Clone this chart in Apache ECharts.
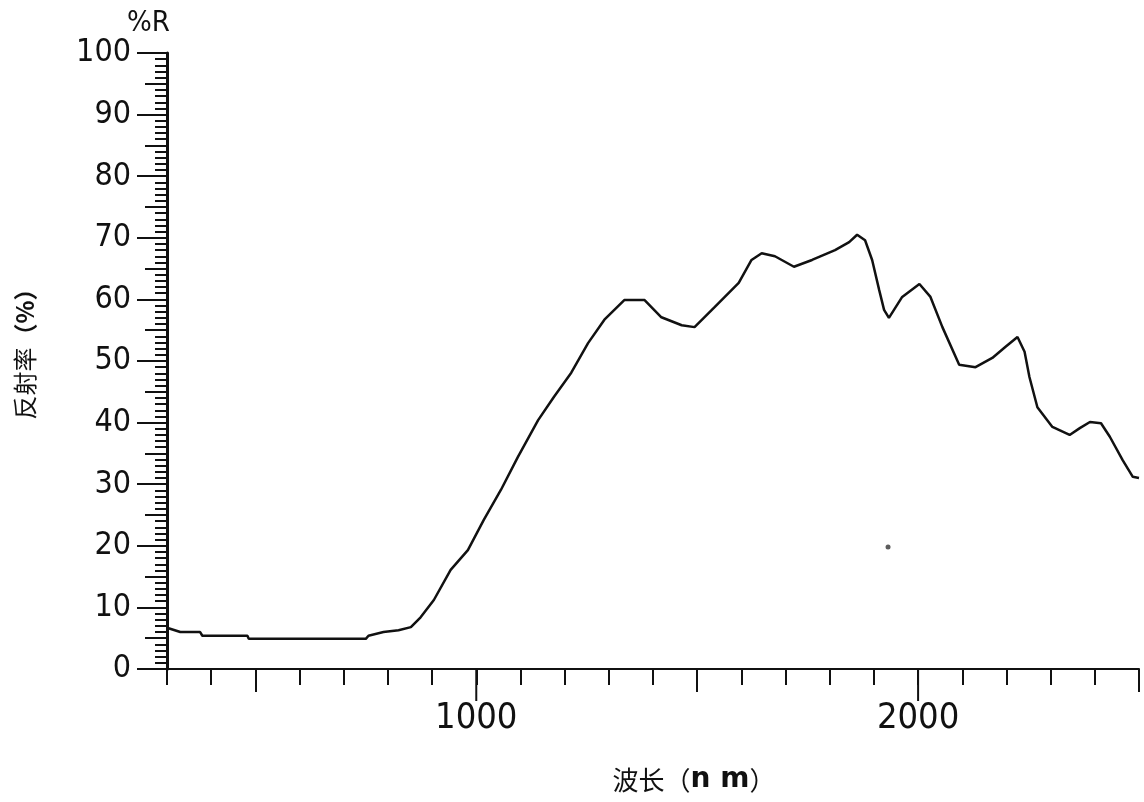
<!DOCTYPE html>
<html>
<head>
<meta charset="utf-8">
<script src="https://cdn.jsdelivr.net/npm/echarts@6/dist/echarts.min.js"></script>
<style>
html, body { margin: 0; padding: 0; background: #fff; }
#chart { width: 1144px; height: 802px; }
</style>
</head>
<body>
<div id="chart"></div>
<script>
// 波长 (nm) / 反射率 (%)
var wavelength = [300, 330, 375, 380, 482, 485, 750, 756, 790, 824, 852, 874, 904, 942, 981,
    1017, 1056, 1094, 1140, 1176, 1215, 1253, 1290, 1335, 1381, 1419, 1465, 1494, 1540, 1594,
    1623, 1646, 1676, 1719, 1760, 1812, 1844, 1862, 1880, 1896, 1912, 1923, 1934, 1964, 2003,
    2028, 2055, 2093, 2130, 2168, 2198, 2225, 2241, 2252, 2270, 2304, 2343, 2366, 2389, 2414,
    2434, 2463, 2486, 2500];
var reflectance = [6.7, 6.0, 6.0, 5.4, 5.4, 4.9, 4.9, 5.4, 6.0, 6.3, 6.8, 8.4, 11.2, 16.1, 19.3,
    24.2, 29.1, 34.4, 40.4, 44.2, 48.1, 52.9, 56.7, 59.9, 59.9, 57.1, 55.8, 55.5, 58.8, 62.7,
    66.4, 67.5, 67.0, 65.3, 66.4, 68.0, 69.3, 70.5, 69.6, 66.4, 61.5, 58.3, 57.0, 60.4, 62.5,
    60.4, 55.5, 49.4, 49.0, 50.5, 52.3, 53.9, 51.5, 47.4, 42.5, 39.3, 38.0, 39.1, 40.1, 39.9,
    37.7, 33.9, 31.2, 31.0];
// 图上的小污点
var speckX = [1932];
var speckY = [19.8];

var xMediumTicks = [500, 1500, 2500];
var xMajorTicks = [1000, 2000];

var lineData = wavelength.map(function (w, i) {
    return [w, reflectance[i]];
});
var speckData = speckX.map(function (w, i) {
    return [w, speckY[i]];
});

var black = '#111';
var numFont = 'DejaVu Sans Condensed';
var gridTop = 53, gridBottom = 133;
var gridHeight = 802 - gridTop - gridBottom;

var myChart = echarts.init(document.getElementById('chart'));
myChart.setOption({
    backgroundColor: '#fff',
    animation: false,
    grid: {left: 167, right: 5, top: gridTop, bottom: gridBottom},
    xAxis: [
        {
            type: 'value', min: 300, max: 2500, interval: 100,
            position: 'bottom',
            axisLine: {show: true, onZero: false, lineStyle: {color: black, width: 2}},
            splitLine: {show: false},
            axisTick: {show: true, length: 16, lineStyle: {color: black, width: 2}},
            axisLabel: {
                margin: 32,
                color: black,
                fontFamily: numFont,
                fontSize: 36,
                formatter: function (v) {
                    return xMajorTicks.indexOf(v) >= 0 ? String(v) : '';
                }
            }
        },
        {
            // 500 间隔的中刻度: 顶部轴挪到底部, 刻度朝下
            type: 'value', min: 300, max: 2500, interval: 100,
            position: 'top', offset: -gridHeight,
            axisLine: {show: false, onZero: false},
            splitLine: {show: false},
            axisLabel: {show: false},
            axisTick: {show: true, inside: true, customValues: xMediumTicks, length: 23,
                lineStyle: {color: black, width: 2}}
        }
    ],
    yAxis: [
        {
            type: 'value', min: 0, max: 100, interval: 10,
            position: 'left',
            axisLine: {show: true, onZero: false, lineStyle: {color: black, width: 3}},
            splitLine: {show: false},
            axisTick: {show: true, length: 30, lineStyle: {color: black, width: 2}},
            minorTick: {show: true, splitNumber: 10, length: 12, lineStyle: {color: black, width: 2}},
            axisLabel: {
                margin: 36,
                color: black,
                fontFamily: numFont,
                fontSize: 32
            }
        },
        {
            // 5 间隔的中刻度
            type: 'value', min: 0, max: 100, interval: 5,
            position: 'right', offset: -(1144 - 167 - 5),
            axisLine: {show: false, onZero: false},
            splitLine: {show: false},
            axisLabel: {show: false},
            axisTick: {show: true, inside: true, length: 22, lineStyle: {color: black, width: 2}}
        }
    ],
    graphic: [
        {
            id: 'unit',
            type: 'text', left: 127, top: 9,
            style: {text: '%R', fill: black, font: '29px "DejaVu Sans Condensed"'}
        },
        {
            id: 'yTitle',
            type: 'text', x: 25, y: 348, rotation: Math.PI / 2,
            style: {
                text: '反射率{b|（%）}',
                fill: black,
                align: 'center',
                verticalAlign: 'middle',
                font: '24px "Noto Sans CJK SC"',
                rich: {b: {fontWeight: 'bold', fontSize: 24, fontFamily: 'Noto Sans CJK SC', fill: black}}
            }
        },
        {
            id: 'xTitle',
            type: 'text', x: 694, y: 780,
            style: {
                text: '波长（{b|n m}）',
                fill: black,
                align: 'center',
                verticalAlign: 'middle',
                font: '26px "Noto Sans CJK SC"',
                rich: {b: {fontWeight: 'bold', fontSize: 28, fontFamily: 'DejaVu Sans', fill: black}}
            }
        }
    ],
    series: [
        {
            name: '反射率',
            type: 'line',
            showSymbol: false,
            smooth: false,
            lineStyle: {color: black, width: 2.5},
            data: lineData
        },
        {
            name: 'speck',
            type: 'scatter',
            symbolSize: 5,
            itemStyle: {color: '#333'},
            data: speckData
        }
    ]
});

// 1000/2000 处的长刻度, 位置由坐标轴换算
var majorTickGraphics = xMajorTicks.map(function (v, i) {
    var p = myChart.convertToPixel({xAxisIndex: 0, yAxisIndex: 0}, [v, 0]);
    return {
        id: 'majorTick' + i,
        type: 'line',
        z: 100,
        shape: {x1: p[0], y1: p[1], x2: p[0], y2: p[1] + 32},
        style: {stroke: black, lineWidth: 2}
    };
});
myChart.setOption({graphic: majorTickGraphics});
</script>
</body>
</html>
